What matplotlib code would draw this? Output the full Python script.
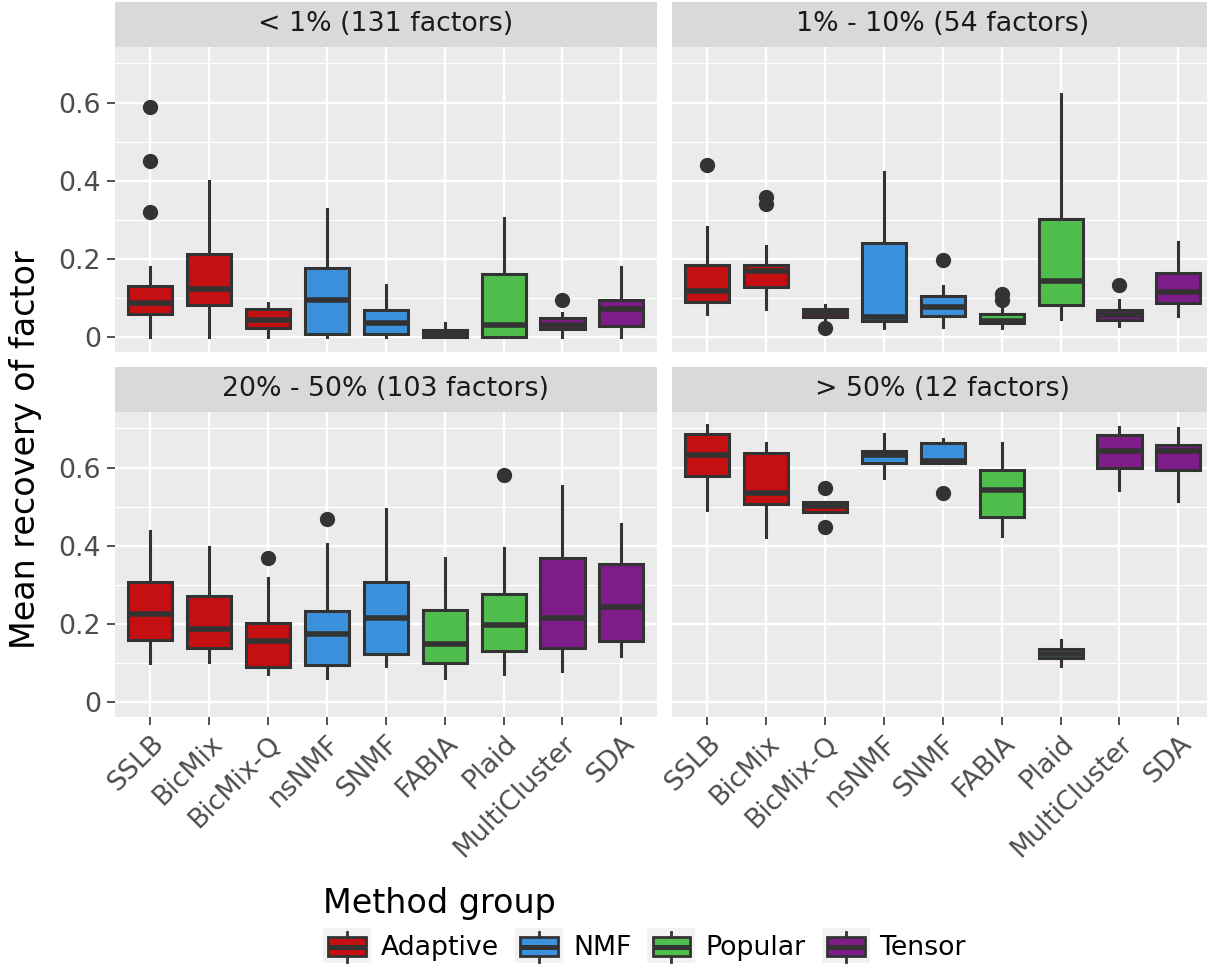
"""Mean factor recovery per method, faceted by factor sparsity bin."""
import matplotlib

matplotlib.use("Agg")
import matplotlib.pyplot as plt
from matplotlib.legend_handler import HandlerBase
from matplotlib.lines import Line2D
from matplotlib.patches import Patch, Rectangle

METHODS = ["SSLB", "BicMix", "BicMix-Q", "nsNMF", "SNMF", "FABIA", "Plaid",
           "MultiCluster", "SDA"]
METHOD_GROUP = ["Adaptive", "Adaptive", "Adaptive", "NMF", "NMF", "Popular",
                "Popular", "Tensor", "Tensor"]
GROUPS = ["Adaptive", "NMF", "Popular", "Tensor"]
GROUP_COLORS = ["#C41012", "#3C91DC", "#50BE4C", "#7E1C8A"]
PANELS = ["< 1% (131 factors)", "1% - 10% (54 factors)",
          "20% - 50% (103 factors)", "> 50% (12 factors)"]

# box statistics, one list per panel, in METHODS order
whishi = [
    [0.180, 0.400, 0.089, 0.329, 0.134, 0.036, 0.306, 0.063, 0.180],
    [0.282, 0.234, 0.084, 0.423, 0.131, 0.078, 0.623, 0.095, 0.245],
    [0.438, 0.396, 0.317, 0.404, 0.495, 0.368, 0.395, 0.554, 0.457],
    [0.708, 0.663, 0.511, 0.685, 0.673, 0.664, 0.159, 0.704, 0.701],
]
q3 = [
    [0.131, 0.213, 0.074, 0.178, 0.071, 0.019, 0.161, 0.051, 0.095],
    [0.185, 0.186, 0.074, 0.242, 0.105, 0.060, 0.302, 0.069, 0.165],
    [0.309, 0.272, 0.203, 0.233, 0.309, 0.236, 0.277, 0.368, 0.353],
    [0.687, 0.636, 0.511, 0.643, 0.662, 0.593, 0.137, 0.683, 0.657],
]
med = [
    [0.087, 0.123, 0.044, 0.095, 0.038, 0.008, 0.031, 0.033, 0.074],
    [0.119, 0.169, 0.063, 0.053, 0.077, 0.042, 0.145, 0.058, 0.115],
    [0.226, 0.188, 0.157, 0.174, 0.217, 0.150, 0.197, 0.215, 0.245],
    [0.632, 0.534, 0.501, 0.632, 0.616, 0.542, 0.124, 0.642, 0.643],
]
q1 = [
    [0.061, 0.083, 0.023, 0.010, 0.010, 0.001, 0.002, 0.021, 0.029],
    [0.091, 0.128, 0.053, 0.043, 0.055, 0.036, 0.083, 0.044, 0.087],
    [0.159, 0.139, 0.091, 0.095, 0.125, 0.102, 0.132, 0.138, 0.158],
    [0.578, 0.507, 0.487, 0.612, 0.612, 0.474, 0.113, 0.598, 0.593],
]
whislo = [
    [0.000, 0.000, 0.000, 0.000, 0.000, 0.000, 0.000, 0.000, 0.000],
    [0.061, 0.072, 0.048, 0.025, 0.027, 0.023, 0.046, 0.029, 0.055],
    [0.100, 0.104, 0.072, 0.063, 0.093, 0.063, 0.073, 0.080, 0.118],
    [0.491, 0.423, 0.487, 0.574, 0.612, 0.425, 0.093, 0.542, 0.515],
]
fliers = [
    {"SSLB": [0.589, 0.452, 0.320], "MultiCluster": [0.095]},
    {"SSLB": [0.440], "BicMix": [0.359, 0.342], "BicMix-Q": [0.025],
     "SNMF": [0.199], "FABIA": [0.112, 0.097], "MultiCluster": [0.135]},
    {"BicMix-Q": [0.370], "nsNMF": [0.468], "Plaid": [0.580]},
    {"BicMix-Q": [0.548, 0.449], "SNMF": [0.536]},
]

DARK = "#333333"
SMALL, BIG = 19.3, 24
W, H = 1207, 974
PANEL_W, PANEL_H, STRIP_H = 541.7, 305.2, 45.0
LEFTS = [115.0, 672.0]
TOPS = [46.7, 411.7]
YLIM = (-0.0368, 0.7427)


class BoxKey(HandlerBase):
    """ggplot-style boxplot legend key on a light grey square."""

    def create_artists(self, legend, orig, xd, yd, width, height, fontsize, trans):
        x0, y0 = -xd, -yd
        bg = Rectangle((x0, y0), width, height, facecolor="#F2F2F2",
                       edgecolor="none", transform=trans)
        bx, bw = x0 + width * 0.105, width * 0.79
        by, bh = y0 + height * 0.21, height * 0.54
        wh = Line2D([x0 + width / 2] * 2, [y0 + height * 0.045, y0 + height * 0.9],
                    color=DARK, lw=2.0, transform=trans)
        box = Rectangle((bx, by), bw, bh, facecolor=orig.get_facecolor(),
                        edgecolor=DARK, lw=2.0, transform=trans)
        md = Line2D([bx, bx + bw], [by + bh / 2] * 2, color=DARK, lw=3.6,
                    solid_capstyle="butt", transform=trans)
        return [bg, wh, box, md]


def _panel(fig, k):
    row, col = divmod(k, 2)
    ax = fig.add_axes([LEFTS[col] / W, 1 - (TOPS[row] + PANEL_H) / H,
                       PANEL_W / W, PANEL_H / H])
    ax.set_facecolor("#EBEBEB")
    for s in ax.spines.values():
        s.set_visible(False)
    ax.set_axisbelow(True)

    stats = []
    for i, m in enumerate(METHODS):
        stats.append(dict(med=med[k][i], q1=q1[k][i], q3=q3[k][i],
                          whislo=whislo[k][i], whishi=whishi[k][i],
                          fliers=fliers[k].get(m, [])))
    pos = list(range(1, len(METHODS) + 1))
    bp = ax.bxp(stats, positions=pos, widths=0.75, patch_artist=True,
                showcaps=False,
                boxprops=dict(edgecolor=DARK, lw=2.2),
                whiskerprops=dict(color=DARK, lw=2.2),
                medianprops=dict(color=DARK, lw=4.0, solid_capstyle="butt"),
                flierprops=dict(marker="o", markerfacecolor=DARK,
                                markeredgecolor=DARK, markersize=10))
    for patch, g in zip(bp["boxes"], METHOD_GROUP):
        patch.set_facecolor(GROUP_COLORS[GROUPS.index(g)])

    ax.set_xlim(0.4, len(METHODS) + 0.6)
    ax.set_ylim(*YLIM)
    ax.set_yticks([0, 0.2, 0.4, 0.6])
    ax.set_yticks([0.1, 0.3, 0.5, 0.7], minor=True)
    ax.set_xticks(pos)
    ax.grid(which="major", color="white", lw=1.7)
    ax.grid(which="minor", axis="y", color="white", lw=0.85)
    ax.tick_params(which="minor", length=0)
    ax.tick_params(which="major", color=DARK, length=6, width=1.2,
                   labelsize=SMALL, labelcolor="#4D4D4D", pad=4)

    if col == 0:
        ax.set_yticklabels(["0", "0.2", "0.4", "0.6"])
    else:
        ax.tick_params(axis="y", length=0, labelleft=False)
    if row == 1:
        ax.set_xticklabels(METHODS, rotation=45, ha="right", va="top",
                           rotation_mode="anchor")
    else:
        ax.tick_params(axis="x", length=0, labelbottom=False)

    sh = STRIP_H / PANEL_H
    ax.add_patch(Rectangle((0, 1), 1, sh, transform=ax.transAxes,
                           facecolor="#D9D9D9", edgecolor="none", clip_on=False))
    ax.text(0.5, 1 + sh / 2, PANELS[k], transform=ax.transAxes, ha="center",
            va="center", fontsize=SMALL, color="#1A1A1A")
    return ax


def main():
    fig = plt.figure(figsize=(W / 100, H / 100), dpi=100)
    for k in range(4):
        _panel(fig, k)
    fig.text(26 / W, 1 - 450 / H, "Mean recovery of factor", rotation=90,
             ha="center", va="center", fontsize=BIG)

    handles = [Patch(facecolor=c, label=g) for g, c in zip(GROUPS, GROUP_COLORS)]
    leg = fig.legend(handles=handles, loc="upper left", ncol=4,
                     bbox_to_anchor=(323 / W, 1 - 887 / H), frameon=False,
                     fontsize=SMALL, title="Method group", title_fontsize=BIG,
                     alignment="left", borderpad=0, borderaxespad=0,
                     handlelength=1.79, handleheight=1.64, handletextpad=0.37,
                     columnspacing=0.6, handler_map={Patch: BoxKey()})
    leg._legend_box.sep = 6
    fig.savefig("out.png", dpi=100)


if __name__ == "__main__":
    main()
